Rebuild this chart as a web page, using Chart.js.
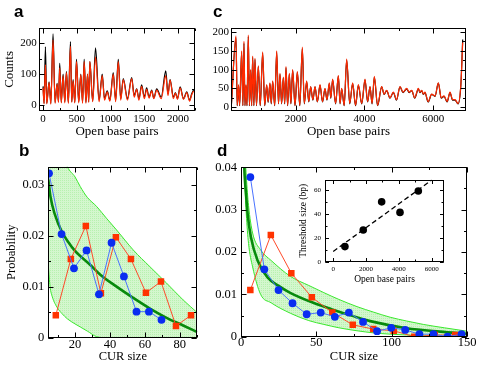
<!DOCTYPE html>
<html>
<head>
<meta charset="utf-8">
<script src="https://cdn.jsdelivr.net/npm/chart.js@4.4.1/dist/chart.umd.min.js"></script>
<style>
  body { margin: 0; background: #fff; }
  #fig { position: relative; width: 480px; height: 371px; overflow: hidden; }
  canvas { position: absolute; }
  .lab { position: absolute; font: bold 17px "Liberation Sans", Arial, sans-serif; line-height: 1; }
</style>
</head>
<body>
<div id="fig">
  <canvas id="pa" width="200" height="125" style="left:0;top:20px"></canvas>
  <canvas id="pc" width="280" height="125" style="left:200px;top:20px"></canvas>
  <canvas id="pb" width="205" height="221" style="left:0;top:150px"></canvas>
  <canvas id="pd" width="275" height="221" style="left:205px;top:150px"></canvas>
  <canvas id="pin" width="160" height="120" style="left:290px;top:172px"></canvas>
  <div class="lab" style="left:14px;top:3px">a</div>
  <div class="lab" style="left:213px;top:3px">c</div>
  <div class="lab" style="left:19px;top:142px">b</div>
  <div class="lab" style="left:217px;top:142px">d</div>
</div>
<script>
// panel a: counts vs open base pairs
const aX = [0, 15, 35, 55, 89, 115, 148, 178, 208, 228, 247, 270, 297, 322, 346, 375, 406, 425, 445, 470,
  495, 528, 559, 585, 609, 635, 658, 676, 693, 735, 777, 830, 876, 910, 950, 990, 1039, 1075, 1114, 1150,
  1188, 1250, 1312, 1350, 1386, 1420, 1460, 1500, 1534, 1570, 1609, 1640, 1683, 1750, 1817, 1850, 1881, 1930, 1960, 1990,
  2030, 2080, 2128, 2170, 2200, 2228];
const aBlack = [60, 5, 188, 5, 75, 5, 230, 8, 70, 10, 135, 8, 100, 10, 108, 8, 205, 10, 82, 8,
  148, 10, 100, 8, 148, 8, 100, 10, 140, 12, 185, 15, 100, 20, 45, 15, 105, 15, 148, 20,
  85, 20, 88, 30, 52, 20, 65, 25, 55, 25, 48, 22, 52, 25, 110, 35, 82, 25, 40, 20,
  58, 20, 42, 15, 35, 48];
const aRed = [55, 3, 130, 3, 72, 2, 210, 5, 68, 8, 120, 6, 95, 6, 105, 5, 190, 8, 78, 6,
  140, 6, 98, 5, 140, 5, 100, 8, 140, 10, 155, 10, 95, 15, 42, 12, 100, 10, 140, 15,
  82, 15, 85, 25, 50, 15, 60, 20, 50, 22, 45, 20, 48, 20, 95, 30, 80, 20, 38, 18,
  55, 18, 40, 12, 32, 45];

// panel c
const cX = [130, 265, 300, 340, 370, 430, 465, 497, 525, 555, 585, 623, 655, 691, 720, 750, 785, 817, 860, 914,
  970, 1040, 1100, 1157, 1200, 1253, 1290, 1331, 1390, 1448, 1500, 1544, 1590, 1641, 1680, 1718, 1765, 1815, 1860, 1912,
  1980, 2048, 2120, 2193, 2250, 2319, 2380, 2435, 2500, 2562, 2630, 2707, 2780, 2852, 2910, 2977, 3020, 3074, 3160, 3240,
  3290, 3336, 3410, 3482, 3570, 3656, 3740, 3821, 3920, 4015, 4090, 4160, 4220, 4286, 4380, 4499, 4570, 4644, 4740, 4838,
  4930, 5032, 5120, 5226, 5300, 5371, 5460, 5565, 5610, 5662, 5710, 5758, 5850, 5952, 6050, 6146, 6230, 6311, 6400, 6485,
  6560, 6631, 6720, 6800, 6854];
const cRed = [5, 190, 5, 60, 5, 150, 5, 175, 5, 60, 5, 192, 5, 100, 5, 136, 5, 130, 5, 110,
  5, 147, 5, 60, 15, 65, 10, 70, 5, 150, 10, 90, 10, 80, 10, 108, 5, 90, 10, 100,
  5, 95, 5, 160, 10, 70, 15, 55, 20, 55, 15, 60, 15, 50, 20, 65, 25, 75, 10, 85,
  10, 50, 5, 128, 10, 65, 5, 60, 10, 75, 15, 55, 10, 82, 5, 55, 35, 45, 25, 40,
  20, 55, 40, 50, 40, 45, 25, 50, 40, 45, 35, 40, 15, 35, 30, 65, 25, 30, 15, 40,
  20, 20, 10, 60, 172];
const cBlack = [4, 185, 4, 58, 4, 146, 4, 170, 4, 58, 4, 188, 4, 98, 4, 133, 4, 127, 4, 108,
  4, 144, 4, 58, 13, 63, 9, 68, 4, 146, 9, 88, 9, 78, 9, 105, 4, 88, 9, 98,
  4, 93, 4, 156, 9, 68, 14, 54, 19, 54, 14, 58, 14, 49, 19, 63, 24, 73, 9, 83,
  9, 49, 4, 125, 9, 63, 4, 58, 9, 73, 14, 54, 9, 80, 4, 54, 34, 44, 24, 39,
  19, 54, 39, 49, 39, 44, 24, 49, 39, 44, 34, 39, 14, 34, 29, 64, 24, 29, 14, 39,
  19, 19, 9, 58, 180];

// panel b
const bBlueX = [5.1, 12.3, 19.4, 26.6, 33.7, 40.9, 48, 55.2, 62.3, 69.5];
const bBlueY = [0.0322, 0.0203, 0.0136, 0.0171, 0.0085, 0.0186, 0.0120, 0.0051, 0.0051, 0.0035];
const bRedX = [9, 17.6, 26.2, 34.8, 43.4, 52, 60.6, 69.2, 77.8, 86.4];
const bRedY = [0.0044, 0.0154, 0.0219, 0.0087, 0.0197, 0.0154, 0.0088, 0.0110, 0.0023, 0.0044];
const bFitX = [4.7, 6, 8.6, 12.4, 16, 20, 28.6, 34.3, 43.8, 53.3, 62.9, 72.4, 81.9, 90];
const bFitY = [0.031, 0.0275, 0.024, 0.0208, 0.0188, 0.017, 0.0143, 0.0124, 0.01, 0.0078, 0.0057, 0.0039, 0.0024, 0.0011];
const bBandX = [4.7, 5.7, 7, 10, 12.6, 15.6, 20, 23, 27, 32.4, 38, 43.8, 53.3, 62.9, 72.4, 81.9, 90];
const bBandHi = [0.052, 0.05, 0.046, 0.04, 0.0365, 0.0335, 0.0315, 0.0296, 0.0275, 0.0257, 0.0234, 0.0211, 0.0172, 0.0139, 0.0107, 0.0074, 0.0049];
const bBandLo = [0.0141, 0.01, 0.008, 0.0058, 0.0047, 0.0037, 0.0027, 0.0021, 0.0013, 0.0002, 0, 0, 0, 0, 0, 0, 0];

// panel d
const dBlueX = [6.2, 15.5, 24.9, 34.2, 43.6, 52.9, 62.3, 71.6, 81, 90.3, 99.7, 109, 118.4, 127.7, 137.1, 146.4];
const dBlueY = [0.0377, 0.0159, 0.011, 0.0079, 0.0053, 0.0057, 0.0047, 0.0057, 0.0035, 0.0013, 0.0021, 0.0016, 0.0006, 0.0006, 0.0000, 0.0006];
const dRedX = [6.2, 19.8, 33.4, 47, 60.6, 74.2, 87.8, 101.4, 115, 128.6, 142.2];
const dRedY = [0.011, 0.024, 0.015, 0.0093, 0.0057, 0.0028, 0.0018, 0.0014, 0.0000, 0.0004, 0.0004];
const dFitX = [1.5, 2.2, 3.3, 4.4, 6.6, 11, 17.6, 25, 33, 48, 60, 75, 88, 110, 132, 150];
const dFitY = [0.052, 0.04, 0.034, 0.029, 0.0235, 0.018, 0.014, 0.012, 0.0103, 0.008, 0.0065, 0.0048, 0.0035, 0.002, 0.0012, 0.0007];
const dBandX = [1.5, 2.5, 3.5, 5, 7.7, 13, 20, 33, 45, 55, 65, 77, 88, 99, 110, 121, 135, 150];
const dBandHi = [0.06, 0.045, 0.038, 0.031, 0.0245, 0.0205, 0.018, 0.0142, 0.0121, 0.0104, 0.0088, 0.0071, 0.0058, 0.0046, 0.0037, 0.0029, 0.0021, 0.0013];
const dBandLo = [0.046, 0.036, 0.029, 0.022, 0.0165, 0.01, 0.008, 0.0055, 0.0038, 0.0029, 0.0021, 0.0014, 0.0009, 0.0006, 0.0004, 0.0002, 0.0001, 0];

// inset
const inX = [714, 1830, 2952, 4069, 5185];
const inY = [12.9, 26.8, 50.3, 41.5, 59.4];
const inLineX = [0, 6000];
const inLineY = [8.8, 68.5];

// tick labels
const aXTicks = [0, 500, 1000, 1500, 2000];
const aYTicks = [0, 100, 200];
const cXTicks = [2000, 4000, 6000];
const cYTicks = [0, 50, 100, 150, 200];
const bXTicks = [20, 40, 60, 80];
const bYTicks = [0, 0.01, 0.02, 0.03];
const dXTicks = [0, 50, 100, 150];
const dYTicks = [0, 0.01, 0.02, 0.03, 0.04];
const inXTicks = [0, 2000, 4000, 6000];
const inYTicks = [0, 20, 40, 60];

const SERIF = '"Liberation Serif", "Times New Roman", serif';
const pts = (xs, ys) => xs.map((x, i) => ({ x: x, y: ys[i] }));

// box around the plot with inward ticks on all four sides
const frame = {
  id: 'frame',
  afterDatasetsDraw(chart, args, o) {
    const { ctx, chartArea: ca } = chart;
    const xs = chart.scales.x, ys = chart.scales.y;
    const L = Math.round(ca.left) + 0.5, R = Math.round(ca.right) - 0.5;
    const T = Math.round(ca.top) + 0.5, B = Math.round(ca.bottom) - 0.5;
    ctx.save();
    ctx.strokeStyle = '#000';
    ctx.lineWidth = 1;
    ctx.beginPath();
    const markX = (v, len) => {
      const p = Math.round(xs.getPixelForValue(v)) + 0.5;
      ctx.moveTo(p, B); ctx.lineTo(p, B - len);
      ctx.moveTo(p, T); ctx.lineTo(p, T + len);
    };
    const markY = (v, len) => {
      const p = Math.round(ys.getPixelForValue(v)) + 0.5;
      ctx.moveTo(L, p); ctx.lineTo(L + len, p);
      ctx.moveTo(R, p); ctx.lineTo(R - len, p);
    };
    for (let v = Math.ceil(xs.min / o.xMinor) * o.xMinor; v <= xs.max; v += o.xMinor) markX(v, o.minor);
    for (let v = Math.ceil(ys.min / o.yMinor - 1e-9) * o.yMinor; v <= ys.max + 1e-12; v += o.yMinor) markY(v, o.minor);
    o.xMajor.forEach(v => markX(v, o.major));
    o.yMajor.forEach(v => markY(v, o.major));
    ctx.stroke();
    ctx.strokeRect(L, T, R - L, B - T);
    ctx.restore();
  }
};

function panel(id, datasets, o) {
  const tickFont = { family: SERIF, size: o.tickSize, lineHeight: 1 };
  const titleFont = { family: SERIF, size: o.titleSize };
  return new Chart(document.getElementById(id), {
    type: 'line',
    data: { datasets: datasets },
    options: {
      responsive: false,
      animation: false,
      devicePixelRatio: 1,
      layout: { padding: { top: o.padTop, right: o.padRight, left: 0, bottom: 0 } },
      plugins: {
        legend: { display: false },
        tooltip: { enabled: false },
        frame: { xMajor: o.xTicks, yMajor: o.yTicks, xMinor: o.xMinor, yMinor: o.yMinor, major: o.major, minor: o.minor }
      },
      scales: {
        x: {
          type: 'linear', min: o.xMin, max: o.xMax,
          grid: { display: false, drawTicks: false }, border: { display: false },
          ticks: { font: tickFont, color: '#000', padding: o.xTickPad, maxRotation: 0, autoSkip: false, callback: v => String(v) },
          afterBuildTicks: s => { s.ticks = o.xTicks.map(v => ({ value: v })); },
          afterFit: s => { s.height = o.xH; },
          title: { display: true, text: o.xTitle, font: titleFont, color: '#000', padding: { top: 0, bottom: o.xTitlePad } }
        },
        y: {
          type: 'linear', min: o.yMin, max: o.yMax,
          grid: { display: false, drawTicks: false }, border: { display: false },
          ticks: { font: tickFont, color: '#000', padding: o.yTickPad, autoSkip: false, callback: v => String(v) },
          afterBuildTicks: s => { s.ticks = o.yTicks.map(v => ({ value: v })); },
          afterFit: s => { s.width = o.yW; },
          title: { display: !!o.yTitle, text: o.yTitle || '', font: titleFont, color: '#000', padding: { top: o.yTitlePad, bottom: 0 } }
        }
      }
    },
    plugins: [frame]
  });
}

// soft light green texture for the shaded band
function dotted(id) {
  const tile = document.createElement('canvas');
  tile.width = 2; tile.height = 2;
  const g = tile.getContext('2d');
  g.fillStyle = '#d4f7ce'; g.fillRect(0, 0, 2, 2);
  g.fillStyle = '#b8f1b0'; g.fillRect(0, 0, 1, 1);
  return document.getElementById(id).getContext('2d').createPattern(tile, 'repeat');
}

const trace = (xs, ys, color, order) => ({
  data: pts(xs, ys), borderColor: color, borderWidth: 1.2, pointRadius: 0,
  cubicInterpolationMode: 'monotone', order: order
});

function cur(band, fit, red, blue, fill) {
  return [
    { data: band[0], borderColor: '#3be82e', borderWidth: 1, pointRadius: 0, cubicInterpolationMode: 'monotone', fill: '+1', backgroundColor: fill, order: 6 },
    { data: band[1], borderColor: '#3be82e', borderWidth: 1, pointRadius: 0, cubicInterpolationMode: 'monotone', fill: false, order: 5 },
    { data: fit, borderColor: '#078a0c', borderWidth: 2.6, pointRadius: 0, cubicInterpolationMode: 'monotone', order: 4 },
    { data: red, borderColor: '#ff4a2a', borderWidth: 1, pointStyle: 'rect', pointRadius: 4.6, pointBackgroundColor: '#ff3300', pointBorderWidth: 0, order: 3 },
    { data: blue, borderColor: '#4a72ff', borderWidth: 1, pointStyle: 'circle', pointRadius: 3.9, pointBackgroundColor: '#0a2df0', pointBorderWidth: 0, order: 2 }
  ];
}

panel('pa', [trace(aX, aBlack, '#000', 2), trace(aX, aRed, '#ff2a00', 1)], {
  xMin: -60, xMax: 2250, yMin: -20, yMax: 250, xTicks: aXTicks, yTicks: aYTicks, xMinor: 250, yMinor: 50,
  padTop: 5, padRight: 5, yW: 39, xH: 34, tickSize: 11, titleSize: 13,
  xTickPad: 2.5, yTickPad: 2.3, xTitlePad: 5.2, yTitlePad: 1.7, major: 5, minor: 2.5,
  xTitle: 'Open base pairs', yTitle: 'Counts'
});

panel('pc', [trace(cX, cBlack, '#000', 2), trace(cX, cRed, '#ff2a00', 1)], {
  xMin: 120, xMax: 6950, yMin: -10, yMax: 212, xTicks: cXTicks, yTicks: cYTicks, xMinor: 1000, yMinor: 25,
  padTop: 4.3, padRight: 14, yW: 31, xH: 34, tickSize: 11, titleSize: 13,
  xTickPad: 2.5, yTickPad: 2, xTitlePad: 5.2, yTitlePad: 0, major: 5, minor: 2.5,
  xTitle: 'Open base pairs'
});

panel('pb', cur([pts(bBandX, bBandHi), pts(bBandX, bBandLo)], pts(bFitX, bFitY), pts(bRedX, bRedY), pts(bBlueX, bBlueY), dotted('pb')), {
  xMin: 4.7, xMax: 90, yMin: 0, yMax: 0.0335, xTicks: bXTicks, yTicks: bYTicks, xMinor: 10, yMinor: 0.005,
  padTop: 16.7, padRight: 7.7, yW: 48.3, xH: 33.3, tickSize: 12.5, titleSize: 12.5,
  xTickPad: 1, yTickPad: 4, xTitlePad: 6.5, yTitlePad: 4.5, major: 5, minor: 2.5,
  xTitle: 'CUR size', yTitle: 'Probability'
});

panel('pd', cur([pts(dBandX, dBandHi), pts(dBandX, dBandLo)], pts(dFitX, dFitY), pts(dRedX, dRedY), pts(dBlueX, dBlueY), dotted('pd')), {
  xMin: 0, xMax: 150, yMin: 0, yMax: 0.04, xTicks: dXTicks, yTicks: dYTicks, xMinor: 25, yMinor: 0.005,
  padTop: 17.3, padRight: 13, yW: 36, xH: 34.3, tickSize: 12.5, titleSize: 12.5,
  xTickPad: 0, yTickPad: 4, xTitlePad: 6.5, yTitlePad: 0, major: 5, minor: 2.5,
  xTitle: 'CUR size'
});

panel('pin', [
  { data: pts(inX, inY), showLine: false, pointRadius: 3.8, pointBackgroundColor: '#000', pointBorderWidth: 0, order: 1 },
  { data: pts(inLineX, inLineY), borderColor: '#000', borderWidth: 1.3, borderDash: [5, 3], pointRadius: 0, order: 2 }
], {
  xMin: -500, xMax: 6750, yMin: 0, yMax: 69, xTicks: inXTicks, yTicks: inYTicks, xMinor: 1000, yMinor: 10,
  padTop: 7, padRight: 6, yW: 35, xH: 30, tickSize: 7, titleSize: 9.5,
  xTickPad: 3.5, yTickPad: 4, xTitlePad: 7.3, yTitlePad: 7.6, major: 3.5, minor: 2,
  xTitle: 'Open base pairs', yTitle: 'Threshold size (bp)'
});
</script>
</body>
</html>
